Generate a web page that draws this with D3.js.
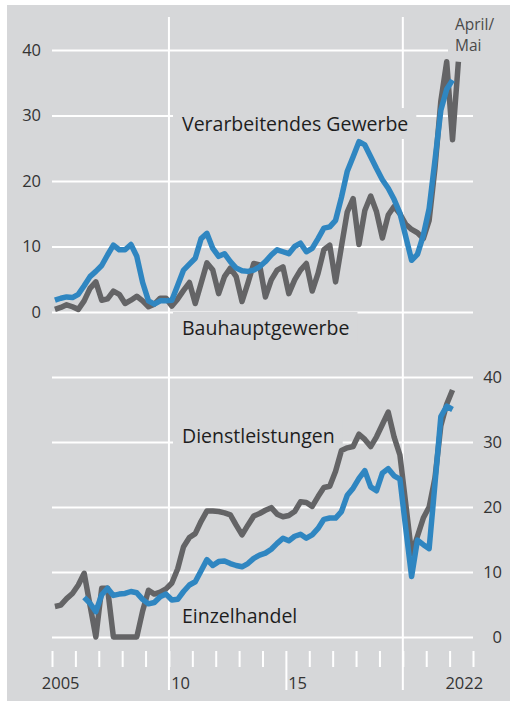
<!DOCTYPE html>
<html>
<head>
<meta charset="utf-8">
<script src="https://cdn.jsdelivr.net/npm/d3@7"></script>
<style>
	body { margin: 0; background: #fff; }
	text { font-family: "Open Sans", "Noto Sans", sans-serif; }
</style>
</head>
<body>
<div id="chart"></div>
<script>
// quarterly values, first entry = 1st quarter 2005
var verarbeitendesGewerbe = [1.8, 2.1, 2.3, 2.2, 2.7, 4.0, 5.4, 6.2, 7.1, 8.7, 10.2, 9.5, 9.5, 10.3, 8.5, 4.5,
	1.7, 1.2, 1.7, 1.7, 1.8, 4.1, 6.4, 7.3, 8.2, 11.2, 12.0, 9.7, 8.5, 8.9, 7.7, 6.7,
	6.3, 6.2, 6.4, 6.9, 7.7, 8.7, 9.5, 9.2, 8.9, 10.0, 10.5, 9.2, 9.7, 11.2, 12.8, 13.0,
	14.0, 17.5, 21.5, 23.7, 26.0, 25.5, 23.7, 21.9, 20.2, 18.9, 17.2, 15.1, 11.5, 7.9, 8.8, 11.7,
	15.8, 23.2, 30.8, 34.0, 35.4];
// last entry = April/Mai 2022
var bauhauptgewerbe = [0.4, 0.7, 1.1, 0.8, 0.4, 1.7, 3.6, 4.6, 1.8, 2.0, 3.2, 2.7, 1.3, 1.8, 2.4, 1.7,
	0.8, 1.2, 2.1, 2.1, 0.9, 2.0, 3.3, 4.5, 1.3, 4.4, 7.5, 6.4, 2.8, 5.4, 6.7, 5.4,
	1.6, 4.4, 7.4, 7.2, 2.3, 4.9, 6.4, 6.9, 2.8, 4.9, 6.4, 7.4, 3.2, 5.9, 9.5, 10.2,
	4.6, 10.0, 15.3, 17.3, 10.3, 15.5, 17.7, 15.3, 11.3, 14.8, 16.1, 15.0, 13.4, 12.6, 12.1, 11.2,
	14.0, 22.0, 32.2, 38.2, 26.3, 38.2];
var dienstleistungen = [4.7, 4.9, 5.9, 6.7, 8.0, 9.8, 4.9, 0.0, 7.5, 7.5, 0.0, 0.0, 0.0, 0.0, 0.0, 4.0,
	7.2, 6.6, 6.9, 7.4, 8.3, 10.5, 13.9, 15.3, 15.9, 17.8, 19.4, 19.4, 19.3, 19.1, 18.8, 17.2,
	15.7, 17.2, 18.6, 19.0, 19.5, 19.9, 18.9, 18.5, 18.7, 19.3, 20.8, 20.7, 20.1, 21.6, 23.0, 23.2,
	25.5, 28.7, 29.1, 29.3, 31.2, 30.4, 29.3, 30.8, 32.7, 34.6, 30.8, 28.0, 20.5, 12.8, 15.5, 18.3,
	20.0, 24.5, 32.5, 35.8, 38.0];
var einzelhandel = [null, null, null, null, null, 6.1, 5.2, 3.9, 6.5, 7.5, 6.4, 6.6, 6.7, 7.0, 6.8, 5.8,
	5.1, 5.3, 6.2, 6.6, 5.7, 5.8, 7.0, 8.0, 8.5, 10.2, 11.9, 11.0, 11.6, 11.7, 11.3, 11.0,
	10.8, 11.3, 12.1, 12.6, 12.9, 13.5, 14.4, 15.2, 14.8, 15.5, 15.8, 15.2, 15.7, 16.7, 18.1, 18.3,
	18.3, 19.3, 21.8, 22.9, 24.4, 25.6, 23.1, 22.5, 25.2, 25.9, 24.8, 24.3, 16.7, 9.3, 14.9, 14.2,
	13.6, 23.6, 33.9, 35.5, 35.0];

var yTicks = [0, 10, 20, 30, 40];
var yearTicks = d3.range(2005, 2024);
var yearLines = [2010, 2020];
var yearLabelValues = [2005, 2010, 2015, 2022];
var yearLabelTexts = ["2005", "10", "15", "2022"];
var noteLines = ["April/", "Mai"];

var bg = "#d6d7d9",
	blue = "#2f86c1",
	grey = "#646466";

var svg = d3.select("#chart")
	.append("svg")
	.attr("width", 510)
	.attr("height", 701);

svg.append("rect")
	.attr("x", 7)
	.attr("y", 5)
	.attr("width", 503)
	.attr("height", 696)
	.attr("fill", bg);

var x = d3.scaleLinear().domain([2005, 2023]).range([52, 473]),
	yTop = d3.scaleLinear().domain([0, 40]).range([312, 50]),
	yBot = d3.scaleLinear().domain([0, 40]).range([637, 377]);

// quarter index -> x position (middle of the quarter)
var qx = function(d, i) { return x(2005 + 0.125 + i * 0.25); };

// top panel grid, labels on the left
var axTop = svg.append("g")
	.attr("transform", "translate(" + x(2005) + ",0)")
	.call(d3.axisLeft(yTop).tickValues(yTicks).tickSize(-(x(2023) - x(2005))).tickPadding(11));
axTop.select(".domain").remove();

// bottom panel grid, labels on the right
var axBot = svg.append("g")
	.attr("transform", "translate(" + x(2023) + ",0)")
	.call(d3.axisRight(yBot).tickValues(yTicks).tickSize(-(x(2023) - x(2005))));
axBot.select(".domain").remove();
axBot.selectAll("text")
	.attr("x", 29)
	.style("text-anchor", "end");

svg.selectAll(".tick line")
	.attr("stroke", "#fff")
	.attr("stroke-width", 2);
svg.selectAll(".tick text")
	.attr("fill", "#333")
	.style("font-size", "16.5px");

// year ticks
var axYear = svg.append("g")
	.attr("transform", "translate(0,651)")
	.call(d3.axisBottom(x).tickValues(yearTicks).tickSize(16).tickFormat(""));
axYear.select(".domain").remove();
axYear.selectAll("line")
	.attr("stroke", "#fff")
	.attr("stroke-width", 2)
	.attr("y2", function(d) { return d === 2015 ? 39 : 16; });

// long white year lines
svg.selectAll(".vline")
	.data(yearLines)
	.enter().append("line")
	.attr("class", "vline")
	.attr("x1", function(d) { return x(d); })
	.attr("x2", function(d) { return x(d); })
	.attr("y1", 17)
	.attr("y2", 690)
	.attr("stroke", "#fff")
	.attr("stroke-width", 2);

// year labels
svg.selectAll(".yearlabel")
	.data(yearLabelValues)
	.enter().append("text")
	.attr("class", "yearlabel")
	.attr("x", function(d) { return x(d + 0.5); })
	.attr("dx", function(d, i) { return i === 0 ? -3 : (i === yearLabelValues.length - 1 ? 3 : 0); })
	.attr("y", 689)
	.attr("text-anchor", "middle")
	.attr("fill", "#333")
	.style("font-size", "16.5px")
	.text(function(d, i) { return yearLabelTexts[i]; });

// series labels with a knock-out box
var labels = svg.append("g");
function seriesLabel(txt, lx, ly) {
	var g = labels.append("g");
	var t = g.append("text")
		.attr("x", lx)
		.attr("y", ly)
		.attr("fill", "#1e1e1e")
		.style("font-size", "19.5px")
		.text(txt);
	var b = t.node().getBBox();
	g.insert("rect", "text")
		.attr("x", b.x - 9)
		.attr("y", b.y - 2)
		.attr("width", b.width + 17)
		.attr("height", b.height + 4)
		.attr("fill", bg);
}
seriesLabel("Verarbeitendes Gewerbe", 182, 131);
seriesLabel("Bauhauptgewerbe", 182, 335);
seriesLabel("Dienstleistungen", 182, 443);
seriesLabel("Einzelhandel", 182, 623);

// April/Mai note, one text per line
var note = labels.append("g");
note.selectAll("text")
	.data(noteLines)
	.enter().append("text")
	.attr("x", 455)
	.attr("y", function(d, i) { return 29.5 + i * 21.2; })
	.attr("fill", "#4a4a4a")
	.style("font-size", "15.5px")
	.text(function(d) { return d; });
var nb = note.node().getBBox();
note.insert("rect", "text")
	.attr("x", nb.x - 7)
	.attr("y", nb.y)
	.attr("width", nb.width + 10)
	.attr("height", nb.height + 1)
	.attr("fill", bg);

// lines
var lineTop = d3.line()
	.defined(function(d) { return d != null; })
	.x(qx)
	.y(function(d) { return yTop(d); });
var lineBot = d3.line()
	.defined(function(d) { return d != null; })
	.x(qx)
	.y(function(d) { return yBot(d); });

var series = [
	{ values: bauhauptgewerbe, line: lineTop, color: grey },
	{ values: verarbeitendesGewerbe, line: lineTop, color: blue },
	{ values: dienstleistungen, line: lineBot, color: grey },
	{ values: einzelhandel, line: lineBot, color: blue }
];

svg.selectAll(".series")
	.data(series)
	.enter().append("path")
	.attr("class", "series")
	.attr("d", function(d) { return d.line(d.values); })
	.attr("fill", "none")
	.attr("stroke", function(d) { return d.color; })
	.attr("stroke-width", 5.5)
	.attr("stroke-linejoin", "round");
</script>
</body>
</html>
